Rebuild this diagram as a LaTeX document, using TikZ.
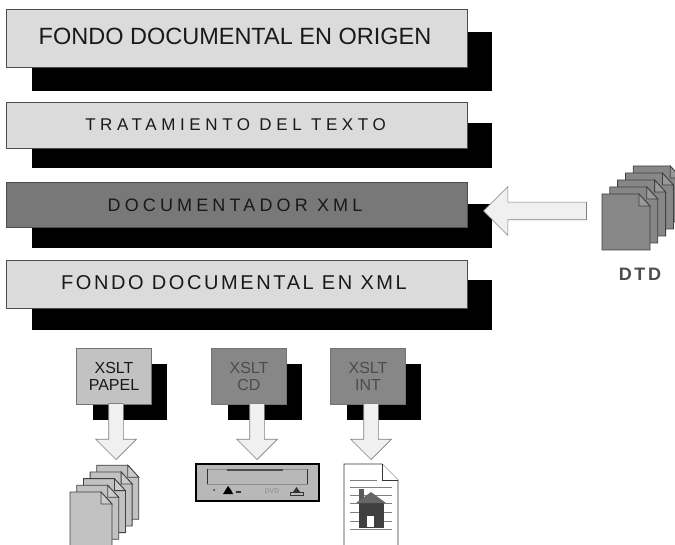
\documentclass[tikz,border=0pt]{standalone}
\usepackage{fontspec}
\setmainfont{Liberation Sans}
\usetikzlibrary{shapes.arrows}
\definecolor{panellight}{gray}{0.86}
\definecolor{paneldark}{gray}{0.47}
\definecolor{panelmid}{gray}{0.53}
\definecolor{sheetdark}{gray}{0.53}
\definecolor{sheetlight}{gray}{0.76}
\definecolor{arrowfill}{gray}{0.94}
\newcommand{\spaced}[1]{\addfontfeature{LetterSpace=#1}}
% one sheet with folded corner: x, y, width, height, fill
\newcommand{\docsheet}[5]{
	\draw[fill=#5, draw=black!75, line width=0.8pt] (#1,#2) -- ++(#3-11,0) -- ++(11,12) -- ++(0,#4-12) -- ++(-#3,0) -- cycle;
	\draw[draw=black!75, line width=0.8pt, fill=#5!85!white] (#1+#3-11,#2) -- ++(0,12) -- ++(11,0) -- cycle;
}
\tikzset{
	panel/.style={rectangle, draw=black!70, line width=1pt, anchor=north west, inner sep=0pt, text=black!90},
	shade box/.style={rectangle, fill=black, anchor=north west, inner sep=0pt},
	xslt/.style={panel, draw=black!55, minimum width=75pt, minimum height=56pt, font=\fontsize{16}{17.5}\selectfont, align=center},
	block/.style={single arrow, anchor=tip, draw=black!50, fill=arrowfill, line width=0.7pt, single arrow head extend=13pt, single arrow tip angle=90, inner xsep=0pt, inner ysep=7pt},
}
\begin{document}
\begin{tikzpicture}[x=1pt, y=-1pt]
	\clip (0,0) rectangle (675,545);
	\fill[white] (0,0) rectangle (675,545);

	\node[shade box, minimum width=460pt, minimum height=59pt](shadeone) at (32,32){};
	\node[shade box, minimum width=460pt, minimum height=45pt](shadetwo) at (32,123){};
	\node[shade box, minimum width=460pt, minimum height=44pt](shadethree) at (32,204){};
	\node[shade box, minimum width=460pt, minimum height=50pt](shadefour) at (32,280){};
	\node[panel, fill=panellight, minimum width=461pt, minimum height=58pt, text depth=5pt, font=\fontsize{23.5}{28}\selectfont](fondo) at (6,9){\hspace*{-4pt}FONDO DOCUMENTAL EN ORIGEN};
	\node[panel, fill=panellight, minimum width=461pt, minimum height=46pt, text depth=2pt, font=\fontsize{17}{20}\selectfont\spaced{27}](tratamiento) at (6,102){\hspace*{-3pt}TRATAMIENTO DEL TEXTO};
	\node[panel, fill=paneldark, minimum width=461pt, minimum height=45pt, font=\fontsize{18}{20}\selectfont\spaced{23}](documentador) at (6,182){\hspace*{-4pt}DOCUMENTADOR XML};
	\node[panel, fill=panellight, minimum width=461pt, minimum height=48pt, text depth=4pt, font=\fontsize{20}{24}\selectfont\spaced{13}](fondoxml) at (6,260){\hspace*{-6pt}FONDO DOCUMENTAL EN XML};

	\node[shade box, minimum width=74pt, minimum height=56pt](shadepapel) at (93,364){};
	\node[shade box, minimum width=74pt, minimum height=56pt](shadecd) at (228,364){};
	\node[shade box, minimum width=74pt, minimum height=56pt](shadeint) at (347,364){};
	\node[xslt, fill=sheetlight](papel) at (76,348){XSLT\\PAPEL};
	\node[xslt, fill=panelmid, text=black!70](cd) at (211,348){XSLT\\CD};
	\node[xslt, fill=panelmid, text=black!70](int) at (330,348){XSLT\\INT};

	\node[block, rotate=-90, minimum height=56pt, minimum width=40pt](arrowpapel) at (116,460){};
	\node[block, rotate=-90, minimum height=56pt, minimum width=40pt](arrowcd) at (257,460){};
	\node[block, rotate=-90, minimum height=56pt, minimum width=40pt](arrowint) at (371,460){};
	\node[block, rotate=180, minimum height=103pt, minimum width=48pt, inner ysep=8.5pt, single arrow head extend=15.5pt](arrowdtd) at (483,211){};

	% pile of sheets, DTD
	\foreach \i in {4,...,0}{
		\docsheet{602+7.8*\i}{194-7*\i}{48}{56}{sheetdark}
	}
	\node[font=\bfseries\fontsize{18}{20}\selectfont\spaced{14}, text=black!70](dtd) at (640,274){DTD};

	% pile of sheets, paper
	\foreach \i in {4,...,1}{
		\docsheet{70+6.7*\i}{492-6.7*\i}{42}{54}{sheetlight}
	}
	\docsheet{70}{492}{42}{60}{sheetlight}

	% drive
	\node[rectangle, draw=black, fill=black!28, line width=1.5pt, anchor=north west, minimum width=123pt, minimum height=37pt, inner sep=0pt](drive) at (195,463){};
	\draw[black!45, line width=0.7pt] (207,469) rectangle (307,484);
	\draw[black!80, line width=0.9pt] (207,469) -- (207,484);
	\draw[black!80, line width=0.9pt] (307,469) -- (307,484);
	\draw[black!70, line width=1.2pt] (227,470) -- (283,470);
	\fill[black!80] (214,490) circle (1pt);
	\fill[black] (223,494) -- (228,486) -- (231,490) -- (233,494) -- cycle;
	\fill[black!80] (236,491) rectangle (241,493);
	\node[font=\fontsize{7}{8}\selectfont\rmfamily, text=black!45, inner sep=0pt](dvd) at (272,491){DVD};
	\fill[black!80] (293,492) -- (296.5,487) -- (300,492) -- cycle;
	\draw[black!80, line width=0.8pt] (290.5,492) rectangle (303,495);

	% sheet with house
	\draw[fill=white, draw=black!80, line width=0.8pt] (344,464) -- (382,464) -- (398,480) -- (398,552) -- (344,552) -- cycle;
	\draw[fill=white, draw=black!80, line width=0.8pt] (382,464) -- (382,480) -- (398,480);
	\draw[black!50, line width=0.8pt] (350,480) -- (377,480);
	\foreach \ypos in {487,495,503,512,521,529}{
		\draw[black!50, line width=0.8pt] (350,\ypos) -- (392,\ypos);
	}
	\fill[black!65] (359,489) rectangle (364,503);
	\fill[black!75] (359,503) rectangle (384,528);
	\fill[black!60] (371,492) -- (386,503) -- (356,503) -- cycle;
	\fill[white] (367,516) rectangle (374,527);
\end{tikzpicture}
\end{document}
